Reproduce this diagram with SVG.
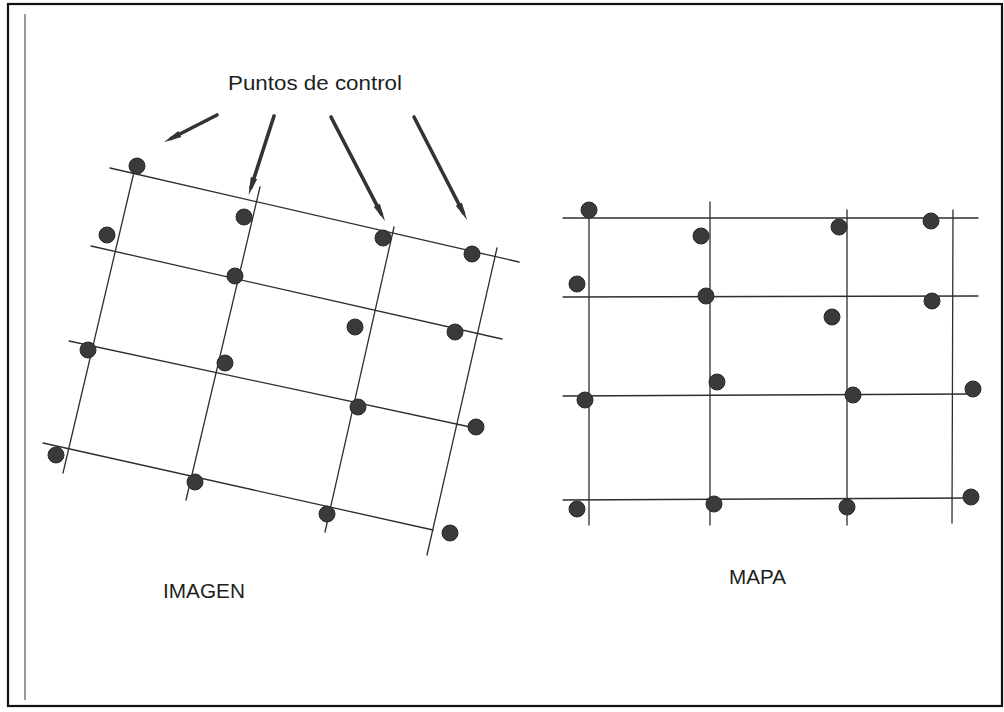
<svg xmlns="http://www.w3.org/2000/svg" width="1004" height="712" viewBox="0 0 1004 712">
  <defs>
    <style>
      .frame { fill: none; stroke: #111; stroke-width: 2.2; }
      .rule { stroke: #555; stroke-width: 1.2; }
      .grid line { stroke: #2e2e2e; stroke-width: 1.3; stroke-linecap: round; }
      .pt { fill: #3a3a3a; stroke: #2a2a2a; stroke-width: 1; }
      .arrow { stroke: #333; stroke-width: 3.6; stroke-linecap: round; marker-end: url(#head); }
      .label { font-family: "Liberation Sans", Arial, sans-serif; fill: #1e1e1e; }
    </style>
    <marker id="head" markerUnits="userSpaceOnUse" markerWidth="18" markerHeight="10" viewBox="0 -5 18 10" refX="10" refY="0" orient="auto">
      <path d="M0,-3.4 L18,0 L0,3.4 Z" fill="#333"/>
    </marker>
  </defs>

  <rect width="1004" height="712" fill="#fff"/>

  <!-- outer frame and inner margin rule -->
  <rect class="frame" x="8" y="4" width="994" height="702"/>
  <line class="rule" x1="25" y1="14" x2="25" y2="700"/>

  <!-- caption with arrows -->
  <g id="caption">
    <text class="label" x="228" y="90" font-size="21" textLength="174" lengthAdjust="spacingAndGlyphs">Puntos de control</text>
  </g>
  <g id="connectors">
    <line class="arrow" x1="217" y1="115" x2="171" y2="138.5"/>
    <line class="arrow" x1="274" y1="116" x2="251" y2="187.5"/>
    <line class="arrow" x1="331" y1="117" x2="381.4" y2="214.1"/>
    <line class="arrow" x1="414" y1="117" x2="463.4" y2="213"/>
  </g>

  <!-- rotated grid of the image -->
  <g id="imagen">
    <g class="grid">
      <line x1="110" y1="168" x2="519" y2="262"/>
      <line x1="91" y1="246" x2="502" y2="339"/>
      <line x1="69" y1="341" x2="475" y2="428"/>
      <line x1="43" y1="443" x2="433" y2="530"/>
      <line x1="134" y1="172" x2="63" y2="473"/>
      <line x1="260" y1="187" x2="186" y2="500"/>
      <line x1="394" y1="227" x2="325" y2="532"/>
      <line x1="497" y1="248" x2="427" y2="555"/>
    </g>
    <g id="imagen-points">
      <circle class="pt" cx="137" cy="166" r="8"/>
      <circle class="pt" cx="244" cy="217" r="8"/>
      <circle class="pt" cx="383" cy="238" r="8"/>
      <circle class="pt" cx="472" cy="254" r="8"/>
      <circle class="pt" cx="107" cy="235" r="8"/>
      <circle class="pt" cx="235" cy="276" r="8"/>
      <circle class="pt" cx="355" cy="327" r="8"/>
      <circle class="pt" cx="455" cy="332" r="8"/>
      <circle class="pt" cx="88" cy="350" r="8"/>
      <circle class="pt" cx="225" cy="363" r="8"/>
      <circle class="pt" cx="358" cy="407" r="8"/>
      <circle class="pt" cx="476" cy="427" r="8"/>
      <circle class="pt" cx="56" cy="455" r="8"/>
      <circle class="pt" cx="195" cy="482" r="8"/>
      <circle class="pt" cx="327" cy="514" r="8"/>
      <circle class="pt" cx="450" cy="533" r="8"/>
    </g>
    <text class="label" x="163" y="598" font-size="21" textLength="82" lengthAdjust="spacingAndGlyphs">IMAGEN</text>
  </g>

  <!-- regular grid of the map -->
  <g id="mapa">
    <g class="grid">
      <line x1="563" y1="218" x2="978" y2="218"/>
      <line x1="563" y1="297" x2="978" y2="296"/>
      <line x1="563" y1="396" x2="970" y2="394"/>
      <line x1="563" y1="500" x2="970" y2="498"/>
      <line x1="589" y1="205" x2="589" y2="525"/>
      <line x1="710" y1="202" x2="710" y2="525"/>
      <line x1="847" y1="210" x2="847" y2="525"/>
      <line x1="953" y1="210" x2="952" y2="523"/>
    </g>
    <g id="mapa-points">
      <circle class="pt" cx="589" cy="210" r="8"/>
      <circle class="pt" cx="701" cy="236" r="8"/>
      <circle class="pt" cx="839" cy="227" r="8"/>
      <circle class="pt" cx="931" cy="221" r="8"/>
      <circle class="pt" cx="577" cy="284" r="8"/>
      <circle class="pt" cx="706" cy="296" r="8"/>
      <circle class="pt" cx="832" cy="317" r="8"/>
      <circle class="pt" cx="932" cy="301" r="8"/>
      <circle class="pt" cx="717" cy="382" r="8"/>
      <circle class="pt" cx="585" cy="400" r="8"/>
      <circle class="pt" cx="853" cy="395" r="8"/>
      <circle class="pt" cx="973" cy="389" r="8"/>
      <circle class="pt" cx="577" cy="509" r="8"/>
      <circle class="pt" cx="714" cy="504" r="8"/>
      <circle class="pt" cx="847" cy="507" r="8"/>
      <circle class="pt" cx="971" cy="497" r="8"/>
    </g>
    <text class="label" x="729" y="584" font-size="21" textLength="57" lengthAdjust="spacingAndGlyphs">MAPA</text>
  </g>
</svg>
